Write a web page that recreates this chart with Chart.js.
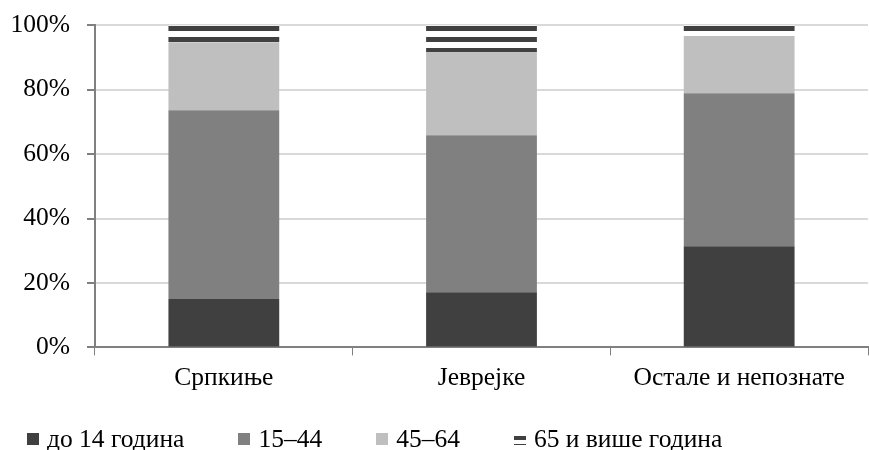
<!DOCTYPE html>
<html>
<head>
<meta charset="utf-8">
<script src="https://cdn.jsdelivr.net/npm/chart.js@4/dist/chart.umd.min.js"></script>
<style>
  html, body { margin: 0; padding: 0; background: #fff; }
  #wrap { position: relative; width: 869px; height: 450px; }
  #legend {
    position: absolute; left: 27px; top: 424px;
    display: flex; align-items: center;
    font-family: 'Liberation Serif', 'Times New Roman', serif;
    font-size: 25.5px; color: #000; white-space: nowrap;
  }
  #legend .item { display: flex; align-items: center; margin-right: 54px; }
  #legend .box { width: 12px; height: 12px; margin-right: 8px; }
</style>
</head>
<body>
<div id="wrap">
  <canvas id="ageChart"></canvas>
  <div id="legend"></div>
</div>
<script>
const categories = ['Српкиње', 'Јеврејке', 'Остале и непознате'];
const seriesNames = ['до 14 година', '15\u201344', '45\u201364', '65 и више година'];
const under14 = [15.0, 17.1, 31.4];
const age15to44 = [58.6, 48.7, 47.5];
const age45to64 = [21.1, 25.8, 17.7];
const over65 = [5.3, 8.4, 3.4];
const yTicks = [0, 20, 40, 60, 80, 100];

// horizontal stripes for 65+ (period 11px, dark 5px)
function stripes() {
    const c = document.createElement('canvas');
    c.width = 10; c.height = 11;
    const g = c.getContext('2d');
    g.fillStyle = '#ffffff';
    g.fillRect(0, 0, 10, 11);
    g.fillStyle = '#404040';
    g.fillRect(0, 4, 10, 5);
    return g.createPattern(c, 'repeat');
}

const colors = ['#404040', '#808080', '#bfbfbf', stripes()];
const fonts = "'Liberation Serif', 'Times New Roman', serif";
const ctx = document.getElementById('ageChart');

new Chart(ctx, {
    type: 'bar',
    data: {
        labels: categories,
        datasets: [
            { label: seriesNames[0], data: under14, backgroundColor: colors[0] },
            { label: seriesNames[1], data: age15to44, backgroundColor: colors[1] },
            { label: seriesNames[2], data: age45to64, backgroundColor: colors[2] },
            { label: seriesNames[3], data: over65, backgroundColor: colors[3] }
        ]
    },
    options: {
        responsive: true,
        maintainAspectRatio: false,
        animation: false,
        layout: { padding: { top: 0, right: 1, left: 0, bottom: 48 } },
        datasets: { bar: { categoryPercentage: 0.43, barPercentage: 1 } },
        scales: {
            x: {
                stacked: true,
                border: { color: '#808080', width: 2 },
                grid: { drawOnChartArea: false, drawTicks: true, tickLength: 8, tickColor: '#808080', offset: true },
                ticks: { color: '#000', font: { family: fonts, size: 25.5 }, padding: 8 }
            },
            y: {
                stacked: true,
                min: 0, max: 100,
                afterBuildTicks: axis => { axis.ticks = yTicks.map(v => ({ value: v })); },
                afterFit: axis => { axis.width = 95; },
                border: { color: '#808080', width: 2 },
                grid: { color: '#d9d9d9', lineWidth: 2, tickColor: '#808080', tickLength: 8 },
                ticks: { color: '#000', font: { family: fonts, size: 25.5, lineHeight: 0.64 }, padding: 17,
                    callback: v => v + '%' }
            }
        },
        plugins: {
            legend: { display: false },
            tooltip: { enabled: false }
        }
    }
});

// legend under the chart
const legendEl = document.getElementById('legend');
seriesNames.forEach((name, i) => {
    const item = document.createElement('div');
    item.className = 'item';
    const box = document.createElement('span');
    box.className = 'box';
    if (i === 3) {
        box.style.background = 'linear-gradient(#fff 0 3px, #404040 3px 7px, #fff 7px 11px, #404040 11px 12px)';
    } else {
        box.style.background = colors[i];
    }
    const txt = document.createElement('span');
    txt.textContent = name;
    item.appendChild(box);
    item.appendChild(txt);
    legendEl.appendChild(item);
});
</script>
</body>
</html>
